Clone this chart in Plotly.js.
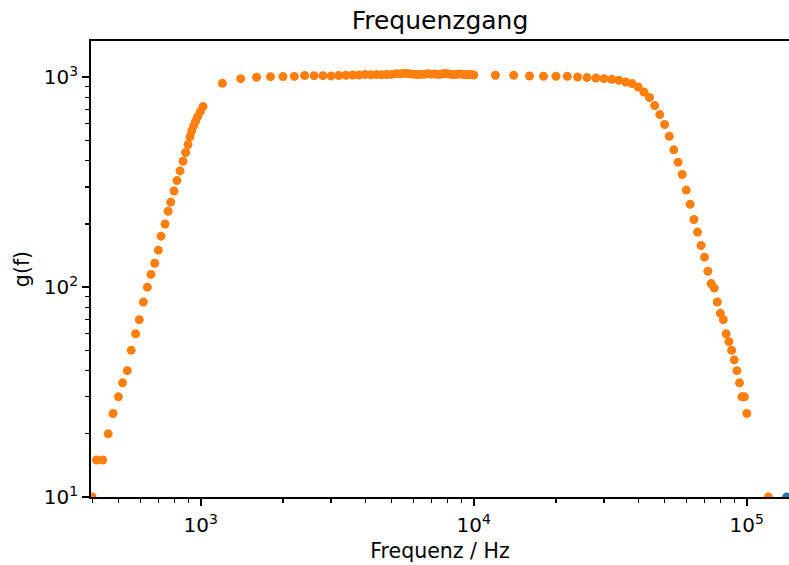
<!DOCTYPE html>
<html>
<head>
<meta charset="utf-8">
<script src="https://cdn.plot.ly/plotly-3.0.1.min.js"></script>
<style>
  html, body { margin: 0; padding: 0; background: #ffffff; overflow: hidden; }
  #chart { width: 789px; height: 565px; }
</style>
</head>
<body>
<div id="chart"></div>
<script>
var freqOrange = [
  400, 415, 437, 458, 477, 499, 517, 538, 556, 577, 595, 616, 637, 657, 678, 699, 715, 740, 759, 776,
  798, 818, 839, 861, 880, 898, 913, 926, 942, 958, 974, 996, 1019,
  1200, 1400, 1600, 1800,
  2000, 2200, 2400, 2600, 2800, 3000, 3200, 3400, 3600, 3800,
  4000, 4200, 4400, 4600, 4800, 5000, 5200, 5400, 5600, 5800,
  6000, 6200, 6400, 6600, 6800, 7000, 7200, 7400, 7600, 7800,
  8000, 8200, 8400, 8600, 8800, 9000, 9200, 9400, 9600, 9800, 10000,
  12000, 14000, 16000, 18000, 20000, 22000, 24000, 26000, 28000, 30000,
  32000, 34000, 36000, 38000, 40000, 42000, 44000, 46000, 48000, 50000,
  52000, 54000, 56000, 58000, 60000, 62000, 64000, 66000, 68000, 70000,
  72000, 74000, 76000, 78000, 80000, 82000, 84000, 86000, 88000, 90000,
  92000, 94000, 96000, 98000, 100000, 120000
];
var gainOrange = [
  10, 15, 15, 20, 25, 30, 35, 40, 50, 60, 70, 85, 100, 115, 130, 150, 175, 200, 230, 254,
  287, 322, 358, 398, 438, 478, 521, 555, 588, 619, 649, 686, 725,
  936, 985, 1000, 1007,
  1008, 1010, 1020, 1018, 1018, 1015, 1020, 1022, 1025, 1025,
  1030, 1028, 1030, 1028, 1030, 1032, 1040, 1040, 1045, 1040,
  1035, 1030, 1032, 1035, 1040, 1035, 1038, 1032, 1035, 1042,
  1040, 1035, 1030, 1032, 1038, 1035, 1030, 1032, 1028, 1030, 1025,
  1022, 1022, 1014, 1011, 1011, 1011, 1003, 997, 992, 985,
  978, 968, 950, 933, 899, 851, 801, 733, 664, 596,
  523, 451, 394, 344, 290, 248, 210, 183, 158, 139,
  119, 104, 99, 85, 75, 70, 60, 55, 50, 45,
  40, 35, 30, 30, 25, 10
];
var freqBlue = [140000];
var gainBlue = [10];

var xTickVals = [1000, 10000, 100000];
var xTickText = ['10<sup>3</sup>', '10<sup>4</sup>', '10<sup>5</sup>'];
var yTickVals = [10, 100, 1000];
var yTickText = ['10<sup>1</sup>', '10<sup>2</sup>', '10<sup>3</sup>'];

var titleText = 'Frequenzgang';
var xTitle = 'Frequenz / Hz';
var yTitle = 'g(f)';

var FONT = 'DejaVu Sans, Liberation Sans, sans-serif';

var traces = [
  {
    x: freqBlue, y: gainBlue, type: 'scatter', mode: 'markers',
    marker: { color: '#1f77b4', size: 9, line: { width: 0 } },
    hoverinfo: 'x+y', showlegend: false
  },
  {
    x: freqOrange, y: gainOrange, type: 'scatter', mode: 'markers',
    marker: { color: '#ff7f0e', size: 9, line: { width: 0 } },
    hoverinfo: 'x+y', showlegend: false
  }
];

var minorTicks = { dtick: 'D1', ticks: 'outside', ticklen: 4.2, tickwidth: 1.2, tickcolor: '#000000', showgrid: false };

var layout = {
  width: 789, height: 565,
  margin: { l: 91, r: 0, t: 41, b: 68, pad: 0 },
  paper_bgcolor: '#ffffff', plot_bgcolor: '#ffffff',
  font: { family: FONT, color: '#000000', size: 20 },
  showlegend: false,
  title: {
    text: titleText,
    font: { family: FONT, size: 25, color: '#000000' },
    x: 0.5, xref: 'paper', xanchor: 'center',
    y: 1 - 20 / 565, yref: 'container', yanchor: 'middle'
  },
  xaxis: {
    type: 'log',
    range: [2.5978, 5.1546],
    showgrid: false, zeroline: false,
    showline: true, linecolor: '#000000', linewidth: 1.6, mirror: true,
    ticks: 'outside', ticklen: 7.3, tickwidth: 1.6, tickcolor: '#000000',
    tickmode: 'array', tickvals: xTickVals, ticktext: xTickText,
    ticklabelstandoff: 2,
    tickfont: { family: FONT, size: 20, color: '#000000' },
    minor: minorTicks,
    title: { text: xTitle, font: { family: FONT, size: 20.5, color: '#000000' }, standoff: 8 },
    automargin: false
  },
  yaxis: {
    type: 'log',
    range: [1.0, 3.1729],
    showgrid: false, zeroline: false,
    showline: true, linecolor: '#000000', linewidth: 1.6, mirror: false,
    ticks: 'outside', ticklen: 7.3, tickwidth: 1.6, tickcolor: '#000000',
    tickmode: 'array', tickvals: yTickVals, ticktext: yTickText,
    tickfont: { family: FONT, size: 20, color: '#000000' },
    minor: minorTicks,
    title: { text: yTitle, font: { family: FONT, size: 20.5, color: '#000000' }, standoff: 8 },
    automargin: false
  }
};

Plotly.newPlot('chart', traces, layout, { displayModeBar: false, staticPlot: true });
</script>
</body>
</html>
